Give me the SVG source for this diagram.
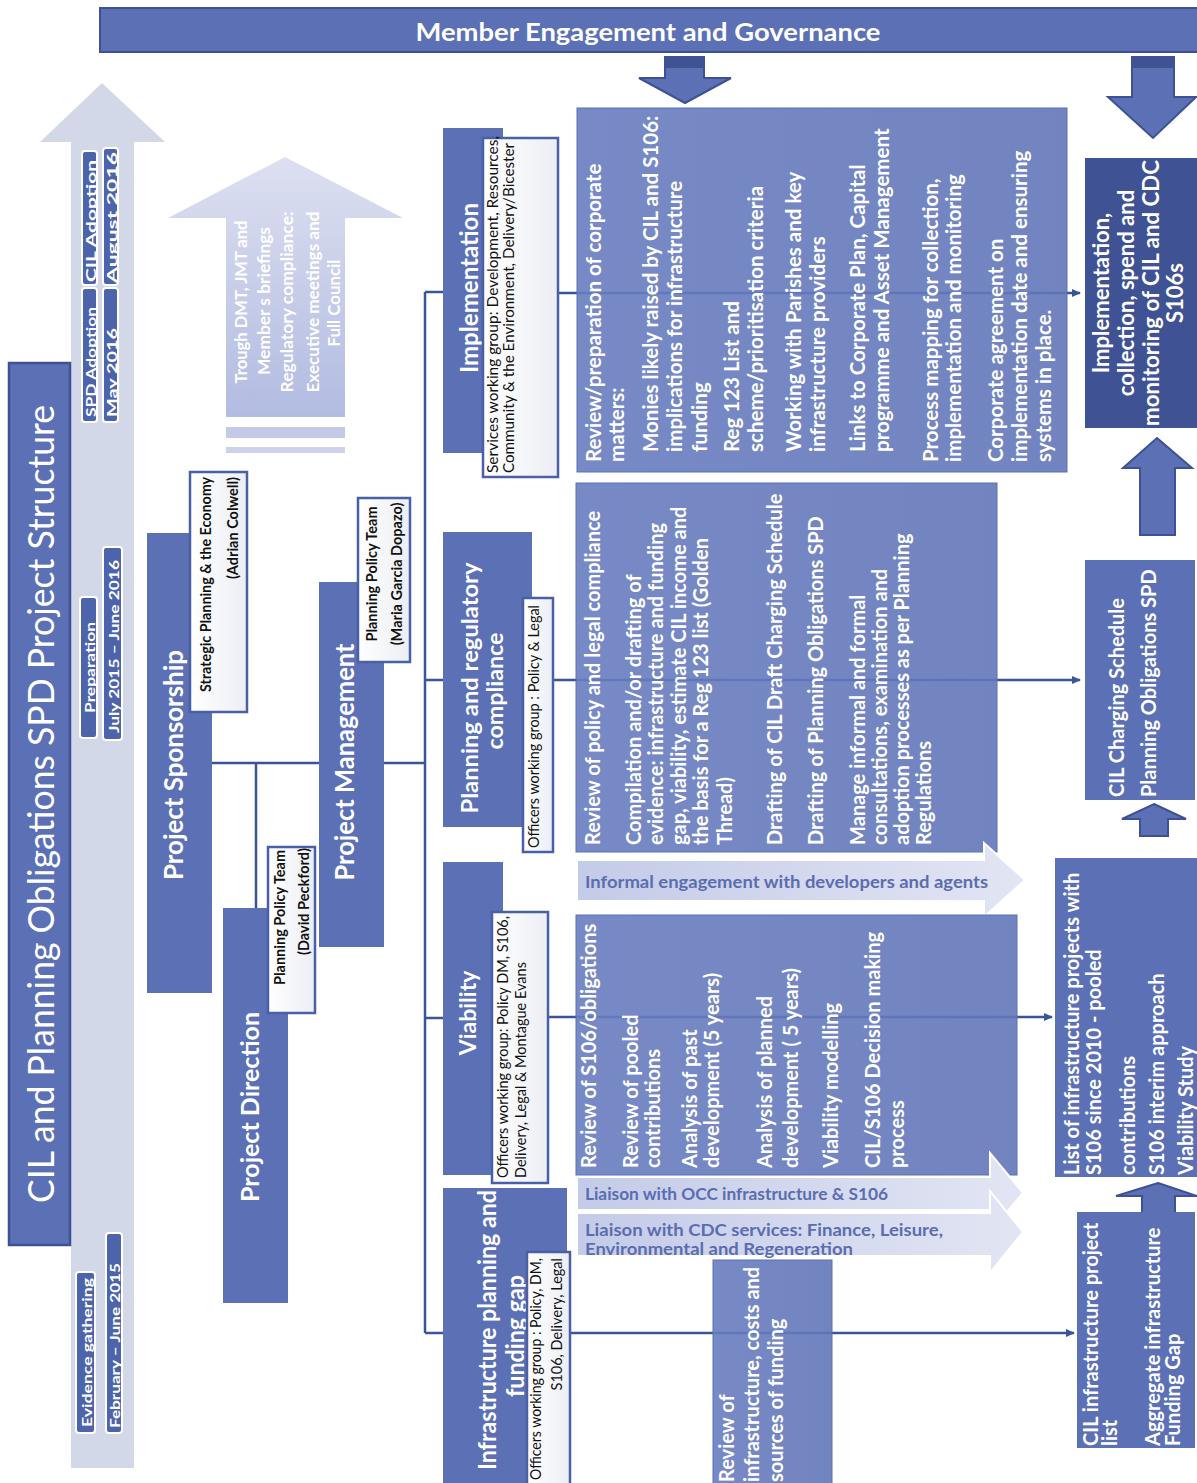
<svg xmlns="http://www.w3.org/2000/svg" width="1197" height="1483" viewBox="0 0 1197 1483">
<defs>
<style>
.t{font-family:Lato,"Open Sans","Liberation Sans",sans-serif;dominant-baseline:central}
.w{fill:#ffffff;font-weight:700}
.k{fill:#111111}
.kb{fill:#111111;font-weight:700}
.c{font-size:20px}
.c1{font-size:20.5px}
.r{font-size:20px}
.s{font-size:14.5px}
.tl{font-size:14px}
.lb{fill:#5a6db0;font-weight:700;font-size:17px}
.mid{text-anchor:middle}
.end{text-anchor:end}
.node{fill:#5b70b5}
.nodeD{fill:#3f5294}
.cont{fill:url(#gCont);fill-opacity:0.9;stroke:#5b70b5;stroke-width:1}
.wbox{fill:url(#gWhite);stroke:#4a60a6;stroke-width:2.5}
.tag{fill:#4d64ab;stroke:#ffffff;stroke-width:2}
.blk{fill:#5b70b5;stroke:#3d5194;stroke-width:2}
.light{fill:url(#gLight);stroke:#ffffff;stroke-width:2}
.con{fill:none;stroke:#3a5596;stroke-width:2.5}
</style>
<linearGradient id="gCont" x1="0" y1="0" x2="1" y2="0">
<stop offset="0" stop-color="#687dc0"/>
<stop offset="1" stop-color="#6277b9"/>
</linearGradient>
<linearGradient id="gWhite" x1="0" y1="0" x2="1" y2="0">
<stop offset="0" stop-color="#ffffff"/>
<stop offset="1" stop-color="#eceef4"/>
</linearGradient>
<linearGradient id="gLight" x1="0" y1="0" x2="1" y2="0">
<stop offset="0" stop-color="#c4cbe8"/>
<stop offset="1" stop-color="#e2e5f3"/>
</linearGradient>
<linearGradient id="gBrief" x1="0" y1="0" x2="0" y2="1">
<stop offset="0" stop-color="#dde0f1"/>
<stop offset="1" stop-color="#b2bbe1"/>
</linearGradient>
<marker id="ah" markerWidth="10" markerHeight="10" refX="8" refY="5" orient="auto" markerUnits="userSpaceOnUse">
<path d="M0,1 L9,5 L0,9 Z" fill="#3a5596"/>
</marker>
</defs>
<rect width="1197" height="1483" fill="#ffffff"/>

<g id="timeline">
<path d="M71,1468 V142 H40 L102,83 L165,142 H134 V1468 Z" fill="#d3d8e8"/>
<rect class="tag" x="82" y="288" width="15" height="134" rx="3"/>
<rect class="tag" x="82" y="151" width="15" height="134" rx="3"/>
<rect class="tag" x="103" y="288" width="15" height="134" rx="3"/>
<rect class="tag" x="103" y="148" width="15" height="137" rx="3"/>
<rect class="tag" x="80" y="597" width="17" height="141" rx="3"/>
<rect class="tag" x="103" y="547" width="19" height="193" rx="3"/>
<rect class="tag" x="76" y="1272" width="19" height="161" rx="3"/>
<rect class="tag" x="106" y="1233" width="16" height="200" rx="3"/>
<text class="t w tl" transform="translate(90,417) rotate(-90)" textLength="110" lengthAdjust="spacingAndGlyphs">SPD Adoption</text>
<text class="t w tl" transform="translate(90,282) rotate(-90)" textLength="122" lengthAdjust="spacingAndGlyphs">CIL Adoption</text>
<text class="t w tl" transform="translate(111,417) rotate(-90)" textLength="89" lengthAdjust="spacingAndGlyphs">May 2016</text>
<text class="t w tl" transform="translate(111,283) rotate(-90)" textLength="131" lengthAdjust="spacingAndGlyphs">August 2016</text>
<text class="t w tl" transform="translate(89,713) rotate(-90)" textLength="91" lengthAdjust="spacingAndGlyphs">Preparation</text>
<text class="t w tl" transform="translate(113,733) rotate(-90)" textLength="173" lengthAdjust="spacingAndGlyphs">July 2015 – June 2016</text>
<text class="t w tl" transform="translate(86,1427) rotate(-90)" textLength="149" lengthAdjust="spacingAndGlyphs">Evidence gathering</text>
<text class="t w tl" transform="translate(114,1428) rotate(-90)" textLength="165" lengthAdjust="spacingAndGlyphs">February – June 2015</text>
</g>

<g id="title">
<rect x="9" y="363" width="61" height="882" fill="#5b70b5" stroke="#3d5194" stroke-width="2.5"/>
<text class="t" transform="translate(40,804) rotate(-90)" text-anchor="middle" font-size="36" fill="#ffffff" textLength="798" lengthAdjust="spacingAndGlyphs">CIL and Planning Obligations SPD Project Structure</text>
</g>

<g id="member-engagement">
<rect x="100" y="8" width="1099" height="44" fill="#5b70b5" stroke="#3d5194" stroke-width="2"/>
<text class="t w mid" x="648" y="31" font-size="24" textLength="465" lengthAdjust="spacingAndGlyphs">Member Engagement and Governance</text>
</g>

<g id="down-arrow-centre">
<path class="blk" d="M665,57 H704 V78 H731 L685,103 L639,78 H665 Z"/>
<rect x="665" y="57" width="39" height="11" fill="#3f5294"/>
</g>
<g id="down-arrow-right">
<path class="blk" d="M1132,57 H1174 V97 H1196 L1153,138 L1108,97 H1132 Z"/>
<rect x="1132" y="57" width="42" height="11" fill="#3f5294"/>
</g>

<g id="briefings">
<path d="M226,417 V218 H168 L285,157 L403,218 H345 V417 Z" fill="url(#gBrief)"/>
<rect x="226" y="427" width="119" height="11" fill="#c3c9e6"/>
<rect x="226" y="447" width="119" height="6" fill="#cdd2ea"/>
<text class="t w mid" font-size="17" transform="translate(240,302) rotate(-90)" textLength="163" lengthAdjust="spacingAndGlyphs">Trough DMT, JMT and</text>
<text class="t w mid" font-size="17" transform="translate(263,301) rotate(-90)" textLength="148" lengthAdjust="spacingAndGlyphs">Member s briefings</text>
<text class="t w mid" font-size="17" transform="translate(286,302) rotate(-90)" textLength="181" lengthAdjust="spacingAndGlyphs">Regulatory compliance:</text>
<text class="t w mid" font-size="17" transform="translate(312,302) rotate(-90)" textLength="181" lengthAdjust="spacingAndGlyphs">Executive meetings and</text>
<text class="t w mid" font-size="17" transform="translate(333,303) rotate(-90)" textLength="87" lengthAdjust="spacingAndGlyphs">Full Council</text>
</g>

<g id="connectors">
<path class="con" d="M425,292 V1333"/>
<path class="con" d="M425,292 H443 M425,680 H443 M425,1018 H443 M425,1333 H443"/>
<path class="con" d="M384,763 H425"/>
<path class="con" d="M212,763 H319 M256,763 V908"/>
<path class="con" d="M558,293 H1080" marker-end="url(#ah)"/>
<path class="con" d="M553,680 H1080" marker-end="url(#ah)"/>
<path class="con" d="M548,1017 H1052" marker-end="url(#ah)"/>
<path class="con" d="M570,1333 H1074" marker-end="url(#ah)"/>
</g>

<g id="project-sponsorship">
<rect class="node" x="147" y="533" width="65" height="460"/>
<text class="t w mid" font-size="26" transform="translate(173,765) rotate(-90)" textLength="230" lengthAdjust="spacingAndGlyphs">Project Sponsorship</text>
<rect class="wbox" x="190" y="472" width="57" height="240"/>
<text class="t kb end s" transform="translate(205,477) rotate(-90)" textLength="215" lengthAdjust="spacingAndGlyphs">Strategic Planning &amp; the Economy</text>
<text class="t kb end s" transform="translate(232,477) rotate(-90)">(Adrian Colwell)</text>
</g>

<g id="project-direction">
<rect class="node" x="223" y="908" width="65" height="395"/>
<text class="t w mid" font-size="25" transform="translate(249,1107) rotate(-90)" textLength="190" lengthAdjust="spacingAndGlyphs">Project Direction</text>
<rect class="wbox" x="268" y="847" width="47" height="166"/>
<text class="t kb s" transform="translate(279,985) rotate(-90)">Planning Policy Team</text>
<text class="t kb s" transform="translate(303,955) rotate(-90)">(David Peckford)</text>
</g>

<g id="project-management">
<rect class="node" x="319" y="582" width="65" height="365"/>
<text class="t w mid" font-size="26" transform="translate(344,762) rotate(-90)" textLength="237" lengthAdjust="spacingAndGlyphs">Project Management</text>
<rect class="wbox" x="358" y="498" width="52" height="164"/>
<text class="t kb mid s" transform="translate(371,574) rotate(-90)">Planning Policy Team</text>
<text class="t kb mid s" transform="translate(396,574) rotate(-90)">(Maria Garcia Dopazo)</text>
</g>

<g id="implementation">
<rect class="node" x="443" y="128" width="60" height="325"/>
<text class="t w mid" font-size="24" transform="translate(468,288) rotate(-90)" textLength="170" lengthAdjust="spacingAndGlyphs">Implementation</text>
<rect class="wbox" x="483" y="138" width="75" height="339"/>
<text class="t k s" transform="translate(492,473) rotate(-90)" textLength="337" lengthAdjust="spacingAndGlyphs">Services working group: Development,  Resources,</text>
<text class="t k s" transform="translate(508,473) rotate(-90)" textLength="330" lengthAdjust="spacingAndGlyphs">Community &amp; the Environment,  Delivery/Bicester</text>
</g>

<g id="planning-compliance">
<rect class="node" x="443" y="532" width="89" height="295"/>
<text class="t w mid" font-size="23" transform="translate(469,688) rotate(-90)" textLength="251" lengthAdjust="spacingAndGlyphs">Planning and regulatory</text>
<text class="t w mid" font-size="23" transform="translate(494,691) rotate(-90)" textLength="117" lengthAdjust="spacingAndGlyphs">compliance</text>
<rect class="wbox" x="523" y="598" width="30" height="254"/>
<text class="t k s" transform="translate(533,848) rotate(-90)" textLength="243" lengthAdjust="spacingAndGlyphs">Officers working group : Policy &amp; Legal</text>
</g>

<g id="viability">
<rect class="node" x="443" y="862" width="60" height="313"/>
<text class="t w mid" font-size="23" transform="translate(467,1013) rotate(-90)">Viability</text>
<rect class="wbox" x="492" y="912" width="56" height="271"/>
<text class="t k s" transform="translate(502,1178) rotate(-90)" textLength="262" lengthAdjust="spacingAndGlyphs">Officers working group: Policy DM, S106,</text>
<text class="t k s" transform="translate(520,1178) rotate(-90)">Delivery, Legal &amp; Montague Evans</text>
</g>

<g id="infrastructure-planning">
<rect class="node" x="443" y="1188" width="124" height="300"/>
<text class="t w mid" font-size="24" transform="translate(486,1330) rotate(-90)" textLength="280" lengthAdjust="spacingAndGlyphs">Infrastructure  planning  and</text>
<text class="t w mid" font-size="24" transform="translate(514,1336) rotate(-90)" textLength="122" lengthAdjust="spacingAndGlyphs">funding gap</text>
<rect class="wbox" x="527" y="1252" width="43" height="240"/>
<text class="t k end s" transform="translate(535,1258) rotate(-90)" textLength="222" lengthAdjust="spacingAndGlyphs">Officers working group : Policy, DM,</text>
<text class="t k end s" transform="translate(556,1258) rotate(-90)">S106, Delivery, Legal</text>
</g>

<g id="implementation-tasks">
<rect class="cont" x="577" y="108" width="490" height="364"/>
<text class="t w c1" transform="translate(593,462) rotate(-90)">Review/preparation of  corporate</text>
<text class="t w c1" transform="translate(616,462) rotate(-90)">matters:</text>
<text class="t w c1" transform="translate(650,452) rotate(-90)">Monies likely raised by CIL and S106:</text>
<text class="t w c1" transform="translate(674,452) rotate(-90)">implications for infrastructure</text>
<text class="t w c1" transform="translate(699,452) rotate(-90)">funding</text>
<text class="t w c1" transform="translate(731,452) rotate(-90)">Reg 123 List and</text>
<text class="t w c1" transform="translate(755,452) rotate(-90)">scheme/prioritisation criteria</text>
<text class="t w c1" transform="translate(793,452) rotate(-90)">Working  with Parishes  and key</text>
<text class="t w c1" transform="translate(817,452) rotate(-90)">infrastructure providers</text>
<text class="t w c1" transform="translate(857,452) rotate(-90)">Links to Corporate Plan, Capital</text>
<text class="t w c1" transform="translate(881,452) rotate(-90)">programme and Asset Management</text>
<text class="t w c1" transform="translate(930,462) rotate(-90)">Process mapping for collection,</text>
<text class="t w c1" transform="translate(953,462) rotate(-90)">implementation and monitoring</text>
<text class="t w c1" transform="translate(995,462) rotate(-90)">Corporate agreement on</text>
<text class="t w c1" transform="translate(1019,462) rotate(-90)">implementation date and ensuring</text>
<text class="t w c1" transform="translate(1043,462) rotate(-90)">systems in place.</text>
</g>

<g id="planning-tasks">
<rect class="cont" x="576" y="483" width="421" height="369"/>
<text class="t w c" transform="translate(592,845) rotate(-90)">Review of policy and legal compliance</text>
<text class="t w c" transform="translate(633,845) rotate(-90)">Compilation and/or drafting of</text>
<text class="t w c" transform="translate(655,845) rotate(-90)">evidence: infrastructure and funding</text>
<text class="t w c" transform="translate(678,845) rotate(-90)">gap, viability, estimate CIL income and</text>
<text class="t w c" transform="translate(700,845) rotate(-90)">the basis for a Reg 123 list (Golden</text>
<text class="t w c" transform="translate(724,845) rotate(-90)">Thread)</text>
<text class="t w c" transform="translate(774,845) rotate(-90)">Drafting of CIL Draft Charging Schedule</text>
<text class="t w c" transform="translate(815,845) rotate(-90)">Drafting of Planning Obligations SPD</text>
<text class="t w c" transform="translate(857,845) rotate(-90)">Manage informal and formal</text>
<text class="t w c" transform="translate(879,845) rotate(-90)">consultations, examination and</text>
<text class="t w c" transform="translate(901,845) rotate(-90)">adoption processes as per Planning</text>
<text class="t w c" transform="translate(923,845) rotate(-90)">Regulations</text>
</g>

<g id="informal-engagement">
<path class="light" d="M577,860 H984 V843 L1025,880 L984,917 V901 H577 Z"/>
<text class="t lb" x="585" y="881" textLength="403" lengthAdjust="spacingAndGlyphs">Informal engagement with developers and agents</text>
</g>

<g id="viability-tasks">
<rect class="cont" x="576" y="915" width="441" height="260"/>
<text class="t w c" transform="translate(588,1168) rotate(-90)">Review of S106/obligations</text>
<text class="t w c" transform="translate(630,1168) rotate(-90)">Review of pooled</text>
<text class="t w c" transform="translate(652,1168) rotate(-90)">contributions</text>
<text class="t w c" transform="translate(689,1168) rotate(-90)">Analysis of past</text>
<text class="t w c" transform="translate(711,1168) rotate(-90)">development (5 years)</text>
<text class="t w c" transform="translate(764,1168) rotate(-90)">Analysis of planned</text>
<text class="t w c" transform="translate(790,1168) rotate(-90)">development ( 5 years)</text>
<text class="t w c" transform="translate(830,1168) rotate(-90)">Viability modelling</text>
<text class="t w c" transform="translate(872,1168) rotate(-90)">CIL/S106 Decision making</text>
<text class="t w c" transform="translate(896,1168) rotate(-90)">process</text>
</g>

<g id="liaison-occ">
<path class="light" d="M577,1177 H990 V1153 L1023,1193 L990,1232 V1210 H577 Z"/>
<text class="t lb" x="585" y="1193" textLength="303" lengthAdjust="spacingAndGlyphs">Liaison with OCC infrastructure &amp; S106</text>
</g>
<g id="liaison-cdc">
<path class="light" d="M577,1213 H990 V1191 L1023,1232 L990,1273 V1256 H577 Z"/>
<text class="t lb" x="585" y="1229" textLength="358" lengthAdjust="spacingAndGlyphs">Liaison with CDC services: Finance, Leisure,</text>
<text class="t lb" x="585" y="1248" textLength="268" lengthAdjust="spacingAndGlyphs">Environmental and Regeneration</text>
</g>

<g id="infrastructure-tasks">
<rect class="cont" x="713" y="1260" width="119" height="230"/>
<text class="t w c" transform="translate(726,1482) rotate(-90)">Review of</text>
<text class="t w c" transform="translate(751,1482) rotate(-90)">infrastructure, costs and</text>
<text class="t w c" transform="translate(775,1482) rotate(-90)">sources of funding</text>
</g>

<g id="output-implementation">
<rect class="nodeD" x="1085" y="158" width="114" height="270"/>
<text class="t w mid" font-size="22" transform="translate(1100,293) rotate(-90)">Implementation,</text>
<text class="t w mid" font-size="22" transform="translate(1125,293) rotate(-90)">collection, spend and</text>
<text class="t w mid" font-size="22" transform="translate(1150,293) rotate(-90)" textLength="266" lengthAdjust="spacingAndGlyphs">monitoring  of CIL and CDC</text>
<text class="t w mid" font-size="22" transform="translate(1174,293) rotate(-90)">S106s</text>
</g>
<g id="up-arrow-1">
<path class="blk" d="M1157,438 L1192,468 H1175 V535 H1140 V468 H1123 Z"/>
</g>
<g id="output-charging">
<rect class="node" x="1085" y="560" width="110" height="240"/>
<text class="t w r" transform="translate(1116,797) rotate(-90)">CIL Charging Schedule</text>
<text class="t w r" transform="translate(1148,797) rotate(-90)">Planning Obligations SPD</text>
</g>
<g id="up-arrow-2">
<path class="blk" d="M1154,804 L1186,819 H1168 V836 H1140 V819 H1122 Z"/>
</g>
<g id="output-projects">
<rect class="node" x="1055" y="858" width="144" height="319"/>
<text class="t w r" transform="translate(1071,1175) rotate(-90)">List of infrastructure  projects with</text>
<text class="t w r" transform="translate(1093,1175) rotate(-90)">S106 since 2010 - pooled</text>
<text class="t w r" transform="translate(1127,1175) rotate(-90)">contributions</text>
<text class="t w r" transform="translate(1156,1175) rotate(-90)">S106 interim approach</text>
<text class="t w r" transform="translate(1185,1175) rotate(-90)">Viability Study</text>
</g>
<g id="up-arrow-3">
<path class="blk" d="M1158,1183 L1197,1196 H1175 V1213 H1142 V1196 H1116 Z"/>
</g>
<g id="output-funding-gap">
<rect class="node" x="1077" y="1212" width="118" height="236"/>
<text class="t w r" transform="translate(1090,1446) rotate(-90)">CIL infrastructure project</text>
<text class="t w r" transform="translate(1109,1446) rotate(-90)">list</text>
<text class="t w r" transform="translate(1152,1446) rotate(-90)">Aggregate infrastructure</text>
<text class="t w r" transform="translate(1172,1446) rotate(-90)">Funding Gap</text>
</g>
</svg>
